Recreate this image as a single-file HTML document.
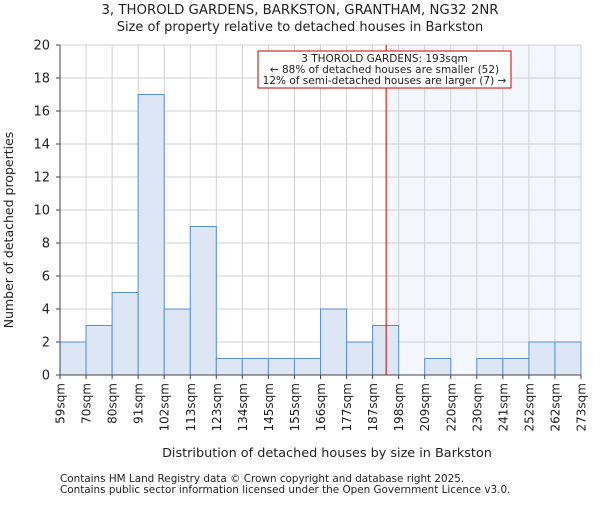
<!DOCTYPE html>
<html><head><meta charset="utf-8"><style>
body{margin:0;background:#fff;}
svg text{font-family:"DejaVu Sans","Liberation Sans",sans-serif;fill:#222;}
</style></head><body>
<svg id="chart" width="600" height="500" xmlns="http://www.w3.org/2000/svg">
<text x="300" y="14" font-size="13.3" text-anchor="middle">3, THOROLD GARDENS, BARKSTON, GRANTHAM, NG32 2NR</text>
<text x="300" y="31" font-size="13" text-anchor="middle">Size of property relative to detached houses in Barkston</text>
<g id="plot"></g>
<text x="327" y="457" font-size="12.8" text-anchor="middle">Distribution of detached houses by size in Barkston</text>
<text transform="translate(13,230) rotate(-90)" font-size="12.5" text-anchor="middle">Number of detached properties</text>
<text x="60" y="482" font-size="10.4">Contains HM Land Registry data © Crown copyright and database right 2025.</text>
<text x="60" y="493" font-size="10.4">Contains public sector information licensed under the Open Government Licence v3.0.</text>
</svg>
<script>
const binLabels=["59sqm","70sqm","80sqm","91sqm","102sqm","113sqm","123sqm","134sqm","145sqm","155sqm","166sqm","177sqm","187sqm","198sqm","209sqm","220sqm","230sqm","241sqm","252sqm","262sqm","273sqm"];
const counts=[2,3,5,17,4,9,1,1,1,1,4,2,3,0,1,0,1,1,2,2];
const yTicks=[0,2,4,6,8,10,12,14,16,18,20];
const markerBin=12.52;
const NS="http://www.w3.org/2000/svg";
const L=60,R=581,T=45,B=375,yMax=20;
const nb=counts.length;
const xs=i=>L+(R-L)*i/nb;
const ys=v=>B-(B-T)*v/yMax;
const g=document.getElementById('plot');
function mk(t,a){const e=document.createElementNS(NS,t);for(const k in a)e.setAttribute(k,a[k]);g.appendChild(e);return e;}
const mx=xs(markerBin);
let e=mk('rect',{x:mx,y:T,width:R-mx,height:B-T,fill:'#f3f6fd'});


for(const t of yTicks){e=mk('line',{x1:L,x2:R,y1:ys(t),y2:ys(t),stroke:'#d0d0d0','stroke-width':1});

}
for(let i=0;i<=nb;i++){e=mk('line',{x1:xs(i),x2:xs(i),y1:T,y2:B,stroke:'#d0d0d0','stroke-width':1});

}
counts.forEach((c,i)=>{if(c<=0)return;
e=mk('rect',{x:xs(i),y:ys(c),width:xs(i+1)-xs(i),height:B-ys(c),fill:'#dce6f4',stroke:'#5a8fd0','stroke-width':1});

});
e=mk('line',{x1:L,x2:L,y1:T,y2:B,stroke:'#444'});


e=mk('line',{x1:L,x2:R,y1:B,y2:B,stroke:'#444'});


for(const t of yTicks){e=mk('text',{x:L-10,y:ys(t)+4.5,'font-size':13,'text-anchor':'end'});e.textContent=t;


mk('line',{x1:L-4,x2:L,y1:ys(t),y2:ys(t),stroke:'#444'});}
binLabels.forEach((lb,i)=>{const x=xs(i);
mk('line',{x1:x,x2:x,y1:B,y2:B+4,stroke:'#444'});
e=mk('text',{transform:`translate(${x+4.5},${B+8}) rotate(-90)`,'font-size':12,'text-anchor':'end'});e.textContent=lb;

});
e=mk('line',{x1:mx,x2:mx,y1:T,y2:B,stroke:'#cc0000','stroke-width':1});


e=mk('rect',{x:258,y:51,width:253,height:37,fill:'#fff',stroke:'#cc0000','stroke-width':1});


const ann=["3 THOROLD GARDENS: 193sqm","← 88% of detached houses are smaller (52)","12% of semi-detached houses are larger (7) →"];
ann.forEach((s,i)=>{e=mk('text',{x:384.5,y:62+i*11,'font-size':10.5,'text-anchor':'middle'});e.textContent=s;

});
</script>
</body></html>
